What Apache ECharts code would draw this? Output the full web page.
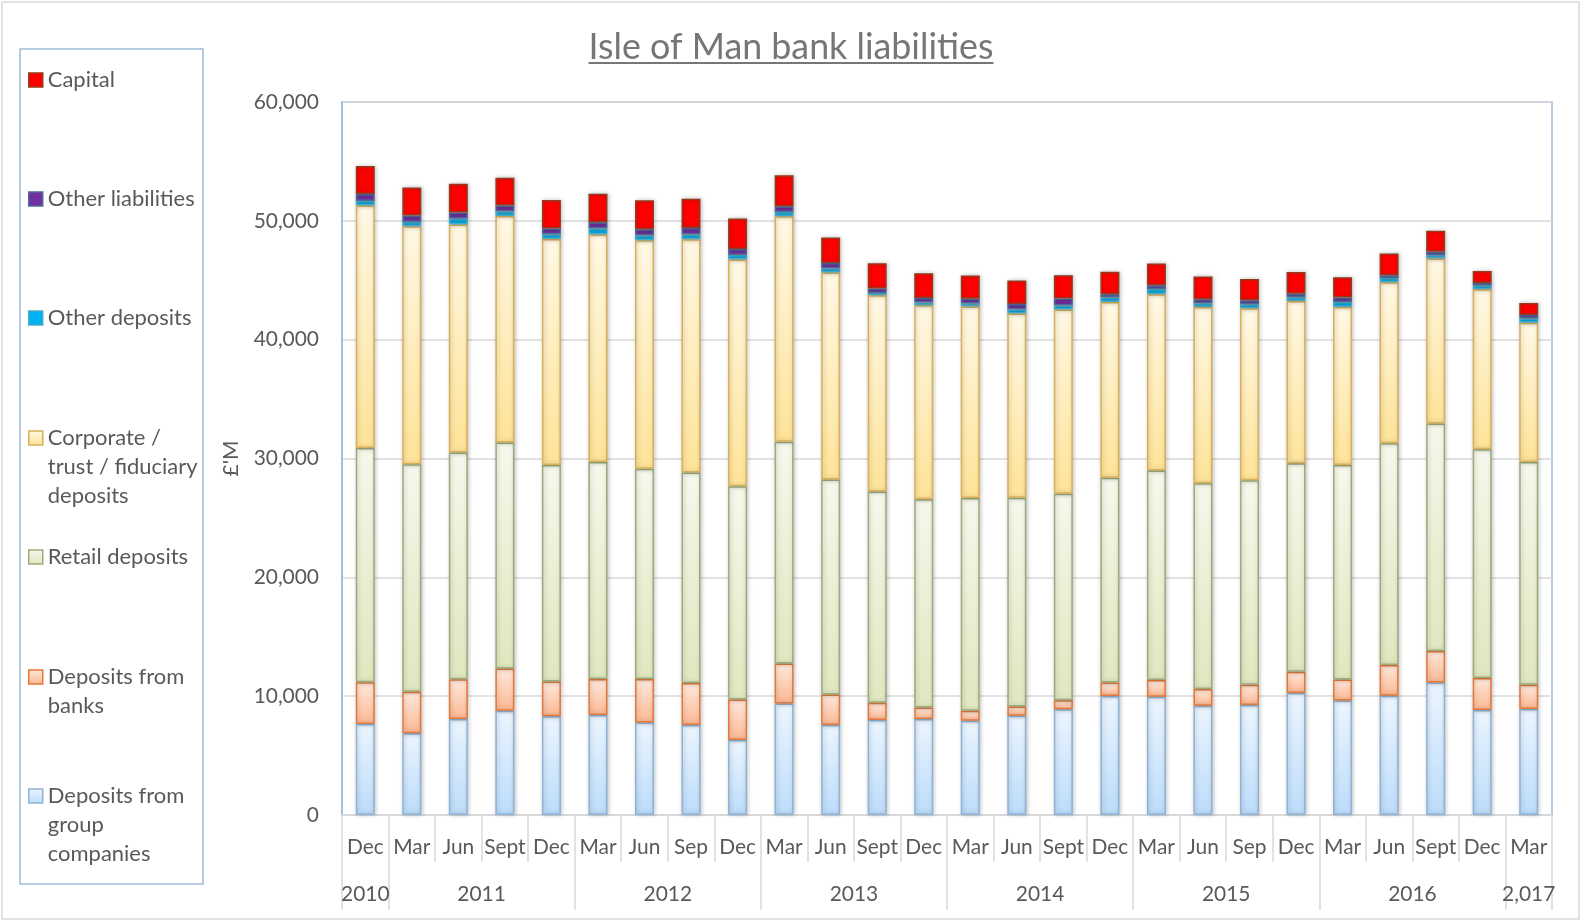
<!DOCTYPE html>
<html><head><meta charset="utf-8">
<script src="https://cdn.jsdelivr.net/npm/echarts@6/dist/echarts.min.js"></script>
<style>html,body{margin:0;padding:0;background:#fff}#c{width:1582px;height:922px}</style>
</head><body><div id="c"></div>
<script>
// ---------- data ----------
const months = ['Dec','Mar','Jun','Sept','Dec','Mar','Jun','Sep','Dec','Mar','Jun','Sept','Dec','Mar','Jun','Sept','Dec','Mar','Jun','Sep','Dec','Mar','Jun','Sept','Dec','Mar'];
const yearLabels = ['2010','2011','2012','2013','2014','2015','2016','2,017'];
const yearSpans = [1,4,4,4,4,4,4,1];

const groupCompanies = [7650,6870,8070,8770,8300,8410,7790,7570,6310,9390,7570,7990,8070,7930,8360,8890,10010,9950,9200,9250,10260,9640,10040,11160,8830,8920];
const fromBanks      = [3530,3500,3360,3560,2940,3030,3650,3530,3420,3360,2580,1460,980,840,780,760,1150,1400,1400,1710,1790,1770,2580,2640,2690,2050];
const retail         = [19710,19150,19070,19010,18220,18270,17690,17720,17940,18650,18090,17780,17520,17910,17550,17380,17220,17640,17320,17210,17550,18050,18670,19150,19260,18730];
const corporate      = [20410,20020,19200,19060,19010,19150,19230,19620,19070,18980,17410,16510,16320,16120,15510,15510,14800,14830,14830,14470,13650,13290,13540,13880,13460,11720];
const otherDeposits  = [370,360,480,390,400,500,400,420,390,360,340,190,230,250,340,340,370,450,310,340,310,420,360,280,310,370];
const otherLiabs     = [590,540,530,510,480,530,530,530,500,480,470,370,390,400,470,590,280,310,340,340,310,370,230,280,220,280];
const capital        = [2350,2360,2410,2330,2410,2390,2440,2470,2560,2610,2140,2130,2080,1960,1970,1960,1880,1830,1910,1790,1820,1710,1830,1770,1010,1010];

const yMin = 0, yMax = 60000, yStep = 10000;
const titleText = 'Isle of Man bank liabilities';
const yName = "£'M";

// ---------- styles ----------
const FONT = 'Lato';
const TXT = '#595959';
const ctx = document.createElement('canvas').getContext('2d');
function fit(text, w){ ctx.font = '100px ' + FONT; return 100 * w / ctx.measureText(text).width; }
const fsAxis = (fit('60,000',66) + fit('Sept',42) + fit('Dec',36)) / 3;
const fsLegend = fit('Other liabilities',147);
const fsTitle = fit(titleText,405);
ctx.font = fsTitle + 'px ' + FONT;
const titleW = ctx.measureText(titleText).width;

const G = (a,b) => new echarts.graphic.LinearGradient(0,0,0,1,[{offset:0,color:a},{offset:1,color:b}]);

const seriesDefs = [
  {name:'Deposits from group companies', label:'Deposits from\ngroup\ncompanies', data:groupCompanies, color:G('#ecf5fe','#bcdcfa'), border:'#8db3d6'},
  {name:'Deposits from banks', label:'Deposits from\nbanks', data:fromBanks, color:G('#ffe8dc','#fbb892'), border:'#e2783a'},
  {name:'Retail deposits', label:'Retail deposits', data:retail, color:G('#f6f8ec','#e0e7bf'), border:'#9cab7c'},
  {name:'Corporate / trust / fiduciary deposits', label:'Corporate /\ntrust / fiduciary\ndeposits', data:corporate, color:G('#fff8e4','#fee398'), border:'#d9b058'},
  {name:'Other deposits', label:'Other deposits', data:otherDeposits, color:'#00b0f0', border:'#4bacc6'},
  {name:'Other liabilities', label:'Other liabilities', data:otherLiabs, color:'#7030a0', border:'#4f6a9a'},
  {name:'Capital', label:'Capital', data:capital, color:'#ff0000', border:'#953a1e'}
];

// categories (unique keys) built from months and year spans
const barYears = [];
yearLabels.forEach((y,i)=>{ for(let k=0;k<yearSpans[i];k++) barYears.push(y); });
const categories = months.map((m,i)=> m + '|' + barYears[i] + '|' + i);

// half-step axis for year level
const nBars = months.length;
const halfCats = []; for(let k=0;k<=nBars*2;k++) halfCats.push('h'+k);
const yearLabelAt = {}; const yearTickAt = new Set([0]);
let acc = 0;
yearLabels.forEach((y,i)=>{ yearLabelAt[acc + yearSpans[i]] = y; acc += yearSpans[i]*2; yearTickAt.add(acc); });

const legendOrder = ['Capital','Other liabilities','Other deposits','Corporate / trust / fiduciary deposits','Retail deposits','Deposits from banks','Deposits from group companies'];
const legendLineY = [80,199,318,438,557,677,796];
const LH = 29;

const legends = legendOrder.map((n,i)=>{
  const d = seriesDefs.find(s=>s.name===n);
  const lines = d.label.split('\n').length;
  // leading blank lines keep the marker beside the first text line
  const shown = '\n'.repeat(lines-1) + d.label;
  return {
    data:[n], left:28, top: legendLineY[i] - (2*lines-1)*LH/2, orient:'vertical', padding:0,
    itemWidth:14, itemHeight:14, itemGap:0, selectedMode:false, icon:'rect',
    formatter: ()=>shown,
    itemStyle:{shadowBlur:0, shadowOffsetX:0, shadowOffsetY:0, borderWidth:1.5},
    textStyle:{fontFamily:FONT, fontSize:fsLegend, color:TXT, lineHeight:LH}
  };
});

const chart = echarts.init(document.getElementById('c'), null, {renderer:'canvas'});
chart.setOption({
  animation:false,
  backgroundColor:'#fff',
  title:{text:titleText, left:'center', top:28, padding:0,
    textStyle:{fontFamily:FONT, fontSize:fsTitle, fontWeight:'normal', color:'#767676', lineHeight:38}},
  legend: legends,
  grid:{left:342, right:30, top:102, bottom:107, show:true, borderColor:'#9dbbd9', borderWidth:1.5},
  xAxis:[
    {type:'category', data:categories, gridIndex:0, position:'bottom',
     axisLine:{show:true, lineStyle:{color:'#d9d9d9', width:1.5}},
     axisTick:{show:true, interval:0, length:47, lineStyle:{color:'#d9d9d9', width:1.5}},
     axisLabel:{interval:0, margin:19, lineHeight:26, fontFamily:FONT, fontSize:fsAxis, color:TXT,
       formatter:(v)=>v.split('|')[0]}},
    {type:'category', data:halfCats, gridIndex:0, position:'bottom', boundaryGap:false,
     axisLine:{show:false},
     axisTick:{show:true, length:95, interval:(idx)=>yearTickAt.has(idx), lineStyle:{color:'#d9d9d9', width:1.5}},
     axisLabel:{interval:(idx)=>yearLabelAt[idx]!==undefined, margin:66, lineHeight:26, fontFamily:FONT, fontSize:fsAxis, color:TXT,
       showMinLabel:true, showMaxLabel:true,
       formatter:(v,idx)=>yearLabelAt[idx]||''}}
  ],
  yAxis:{type:'value', min:yMin, max:yMax, interval:yStep,
    name:yName, nameLocation:'middle', nameGap:100, nameRotate:90,
    nameTextStyle:{fontFamily:FONT, fontSize:fsAxis, color:TXT},
    axisLine:{show:true, lineStyle:{color:'#9dbbd9', width:1.5}},
    axisTick:{show:false},
    splitLine:{lineStyle:{color:'#d9d9d9', width:1.5}},
    axisLabel:{margin:23, fontFamily:FONT, fontSize:fsAxis, color:TXT,
      formatter:(v)=>v.toLocaleString('en-US')}},
  series: seriesDefs.map(s=>({
    name:s.name, type:'bar', stack:'total', barWidth:19, xAxisIndex:0,
    data:s.data,
    itemStyle:{color:s.color, borderColor:s.border, borderWidth:1.5,
      shadowColor:'rgba(0,0,0,0.22)', shadowBlur:4, shadowOffsetX:1, shadowOffsetY:0},
    emphasis:{disabled:true}
  })),
  graphic:[
    {type:'rect', silent:true, z:-10, shape:{x:2,y:2,width:1577,height:917}, style:{fill:'none', stroke:'#d9d9d9', lineWidth:1.5}},
    {type:'rect', silent:true, shape:{x:20,y:49,width:183,height:835}, style:{fill:'none', stroke:'#9dbbd9', lineWidth:1.5}},
    {type:'line', silent:true, shape:{x1:791-titleW/2, y1:63, x2:791+titleW/2, y2:63}, style:{stroke:'#767676', lineWidth:2}}
  ]
});
</script></body></html>
